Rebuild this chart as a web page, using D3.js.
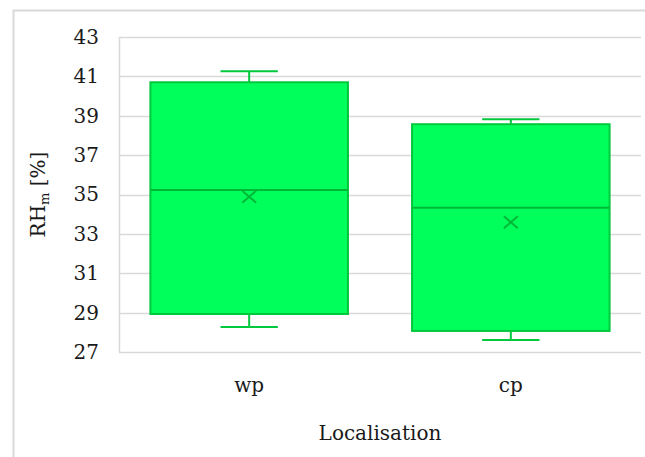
<!DOCTYPE html>
<html><head><meta charset="utf-8">
<script src="https://cdn.jsdelivr.net/npm/d3@7"></script>
<style>body{margin:0;background:#fff}svg{display:block}</style>
</head><body>
<script>
const categories = ["wp", "cp"];
const whiskerMin = [28.27, 27.61];
const q1 = [28.93, 28.07];
const median = [35.23, 34.33];
const q3 = [40.70, 38.57];
const whiskerMax = [41.26, 38.82];
const mean = [34.89, 33.59];
const yTicks = [27, 29, 31, 33, 35, 37, 39, 41, 43];

const W = 645, H = 457;
const m = {left: 119, right: 4, top: 37, bottom: 105};
const font = "'DejaVu Serif', serif";
const fs = 20;
const svg = d3.select("body").append("svg").attr("width", W).attr("height", H);

// outer border (top & left)
svg.append("path").attr("d", `M13.5,${H}V10.5H${W}`).attr("fill", "none").attr("stroke", "#d9d9d9").attr("stroke-width", 2);

const x = d3.scaleBand().domain(categories).range([m.left, W - m.right]).paddingInner(0.245).paddingOuter(0.12);
const y = d3.scaleLinear().domain([27, 43]).range([H - m.bottom, m.top]);

// grid
svg.append("g").selectAll("line").data(yTicks).join("line")
  .attr("x1", m.left).attr("x2", W - m.right)
  .attr("y1", d => Math.round(y(d)) + 0.5).attr("y2", d => Math.round(y(d)) + 0.5)
  .attr("stroke", "#d9d9d9").attr("stroke-width", 1.5);
svg.append("line").attr("x1", m.left + 0.5).attr("x2", m.left + 0.5)
  .attr("y1", y(43)).attr("y2", y(27)).attr("stroke", "#d9d9d9").attr("stroke-width", 1.5);

// y axis labels
const ya = svg.append("g").attr("transform", `translate(${m.left},0)`)
  .call(d3.axisLeft(y).tickValues(yTicks).tickSize(0).tickPadding(20));
ya.select(".domain").remove();
ya.selectAll("text").attr("font-family", font).attr("font-size", fs).attr("fill", "#1a1a1a");

// x axis labels
const xa = svg.append("g").attr("transform", `translate(0,${y(27)})`)
  .call(d3.axisBottom(x).tickSize(0).tickPadding(26));
xa.select(".domain").remove();
xa.selectAll("text").attr("font-family", font).attr("font-size", fs).attr("fill", "#1a1a1a");

const fill = "#00ff5a", stroke = "#00c83c";
const g = svg.append("g");
categories.forEach((c, i) => {
  const cx = x(c) + x.bandwidth() / 2;
  const bw = x.bandwidth();
  const cap = bw * 0.145;
  // whiskers
  g.append("line").attr("x1", cx).attr("x2", cx).attr("y1", y(whiskerMax[i])).attr("y2", y(q3[i])).attr("stroke", stroke).attr("stroke-width", 2);
  g.append("line").attr("x1", cx).attr("x2", cx).attr("y1", y(q1[i])).attr("y2", y(whiskerMin[i])).attr("stroke", stroke).attr("stroke-width", 2);
  g.append("line").attr("x1", cx - cap).attr("x2", cx + cap).attr("y1", y(whiskerMax[i])).attr("y2", y(whiskerMax[i])).attr("stroke", stroke).attr("stroke-width", 2);
  g.append("line").attr("x1", cx - cap).attr("x2", cx + cap).attr("y1", y(whiskerMin[i])).attr("y2", y(whiskerMin[i])).attr("stroke", stroke).attr("stroke-width", 2);
  // box
  g.append("rect").attr("x", x(c)).attr("width", bw).attr("y", y(q3[i])).attr("height", y(q1[i]) - y(q3[i]))
    .attr("fill", fill).attr("stroke", stroke).attr("stroke-width", 2);
  // median
  g.append("line").attr("x1", x(c)).attr("x2", x(c) + bw).attr("y1", y(median[i])).attr("y2", y(median[i])).attr("stroke", "#00b838").attr("stroke-width", 2);
  // mean X
  const my = y(mean[i]), s = 7, sv = 6;
  g.append("path").attr("d", `M${cx - s},${my - sv}L${cx + s},${my + sv}M${cx - s},${my + sv}L${cx + s},${my - sv}`)
    .attr("stroke", "#00b838").attr("stroke-width", 2).attr("fill", "none");
});

// axis titles
svg.append("text").attr("x", (m.left + W - m.right) / 2).attr("y", 440).attr("text-anchor", "middle")
  .attr("font-family", font).attr("font-size", fs).attr("fill", "#1a1a1a").text("Localisation");
const yt = svg.append("text").attr("transform", `translate(45,${(y(43) + y(27)) / 2}) rotate(-90)`)
  .attr("text-anchor", "middle").attr("font-family", font).attr("font-size", fs).attr("fill", "#1a1a1a");
yt.append("tspan").text("RH");
yt.append("tspan").attr("font-size", 13).attr("dy", 4).text("m");
yt.append("tspan").attr("dy", -4).text(" [%]");
</script>
</body></html>
